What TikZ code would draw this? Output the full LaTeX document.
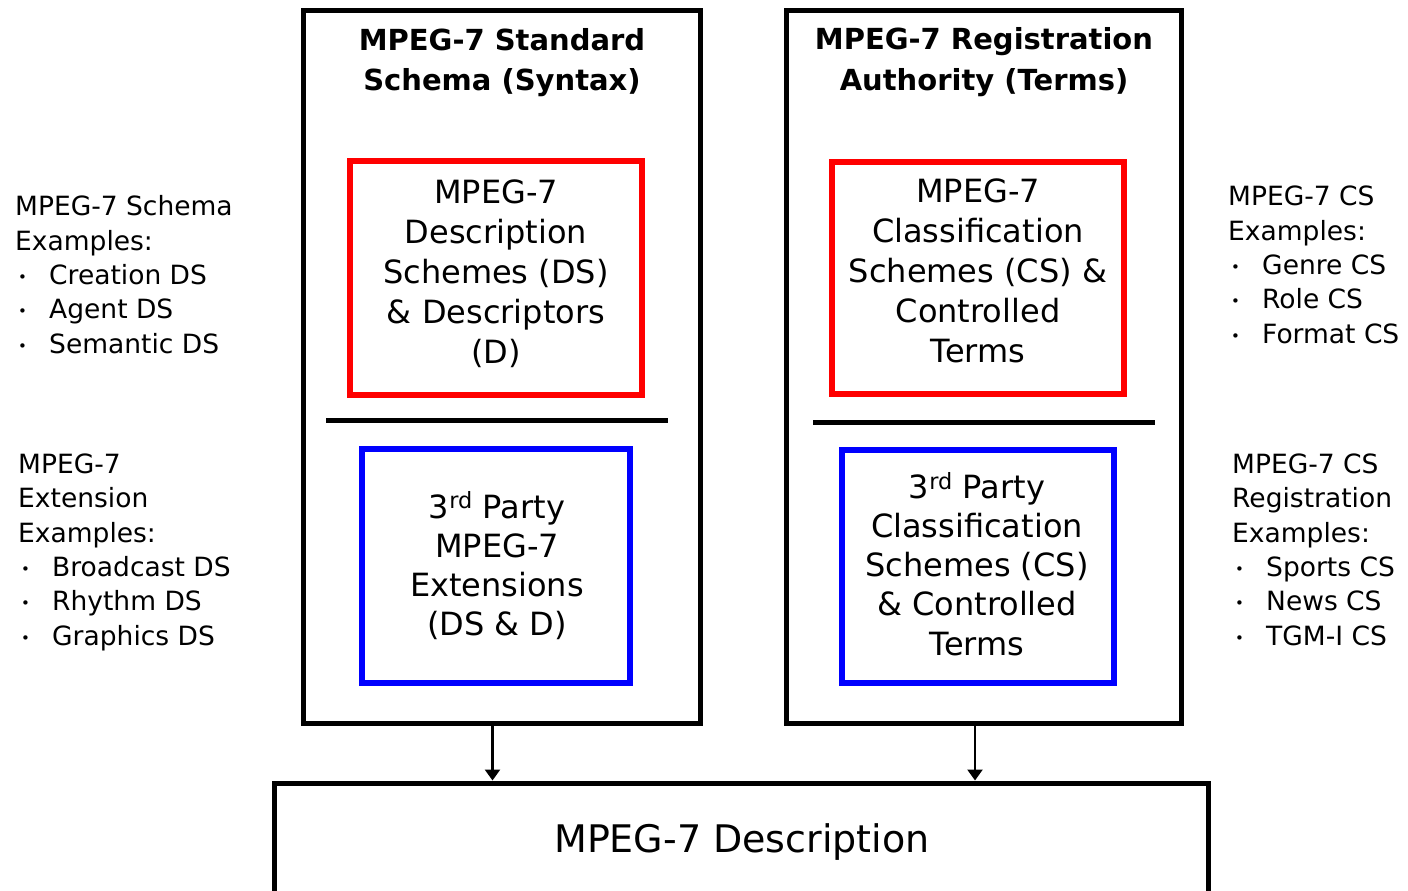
\documentclass[tikz,border=0pt]{standalone}
\usepackage{fontspec}
\setmainfont{DejaVu Sans}
\usetikzlibrary{arrows.meta}
\newcommand\itm{\makebox[34pt][l]{\kern3pt{\fontsize{15}{15}\selectfont\raisebox{2pt}{•}}}}
\tikzset{
  frame/.style={draw=black, line width=5pt, inner sep=0pt, rectangle},
  redbox/.style={draw=red, line width=6pt, inner sep=0pt, rectangle},
  bluebox/.style={draw=blue, line width=6pt, inner sep=0pt, rectangle},
  boxtext/.style={align=center, inner sep=0pt, anchor=base, font=\fontsize{32}{40}\selectfont},
  titletext/.style={align=center, inner sep=0pt, anchor=base, font=\bfseries\fontsize{29}{40}\selectfont},
  side/.style={align=left, inner sep=0pt, anchor=base west, font=\fontsize{26.5}{34.3}\selectfont},
  divider/.style={line width=5pt},
  flow/.style={line width=2.5pt, -{Triangle[width=15pt,length=11pt]}},
}
\begin{document}
\begin{tikzpicture}[x=1pt,y=-1pt]
\useasboundingbox (0,0) rectangle (1408,891);
\clip (0,0) rectangle (1408,891);
\fill[white] (0,0) rectangle (1408,891);

% big frames
\node[frame, minimum width=397pt, minimum height=713pt] (std) at (502,367) {};
\node[frame, minimum width=395.5pt, minimum height=712.5pt] (reg) at (983.75,366.75) {};

% titles (anchor = baseline of last line)
\node[titletext] (stdtitle) at (502,91) {MPEG-7 Standard\\Schema (Syntax)};
\node[titletext] (regtitle) at (984,90) {MPEG-7 Registration\\Authority (Terms)};

% inner boxes
\node[redbox, minimum width=292pt, minimum height=233.5pt] (ds) at (496,277.75) {};
\node[bluebox, minimum width=268pt, minimum height=234pt] (ext) at (496,566) {};
\node[redbox, minimum width=292.5pt, minimum height=232pt] (cs) at (977.75,277.5) {};
\node[bluebox, minimum width=271.5pt, minimum height=233.5pt] (tcs) at (977.75,566.25) {};

\node[boxtext] (dstext) at (496,363) {MPEG-7\\Description\\Schemes (DS)\\\& Descriptors\\(D)};
\node[boxtext, font=\fontsize{32}{39}\selectfont] (exttext) at (497,635) {3\textsuperscript{rd} Party\\MPEG-7\\Extensions\\(DS \& D)};
\node[boxtext] (cstext) at (978,362) {MPEG-7\\Classification\\Schemes (CS) \&\\Controlled\\Terms};
\node[boxtext, font=\fontsize{32}{39.2}\selectfont] (tcstext) at (977,655) {3\textsuperscript{rd} Party\\Classification\\Schemes (CS)\\\& Controlled\\Terms};

% dividers
\coordinate (dl1) at (326,420.5);
\coordinate (dl2) at (668,420.5);
\coordinate (dr1) at (813,422.5);
\coordinate (dr2) at (1155,422.5);
\draw[divider] (dl1) -- (dl2);
\draw[divider] (dr1) -- (dr2);

% bottom description box
\node[frame, minimum width=933.5pt, minimum height=240pt, anchor=north] (desc) at (741.25,780.5) {};
\node[inner sep=0pt, anchor=base, font=\fontsize{38}{44}\selectfont] (desctext) at (742,852) {MPEG-7 Description};

% arrows
\coordinate (aL) at (492.5,0);
\coordinate (aR) at (975,0);
\draw[flow] (aL |- std.south) -- (aL |- desc.north);
\draw[flow] (aR |- reg.south) -- (aR |- desc.north);

% side texts (anchor = baseline of last line)
\node[side] (schemaex) at (15,353) {MPEG-7 Schema\\Examples:\\\itm Creation DS\\\itm Agent DS\\\itm Semantic DS};
\node[side] (extex) at (18,645) {MPEG-7\\Extension\\Examples:\\\itm Broadcast DS\\\itm Rhythm DS\\\itm Graphics DS};
\node[side] (csex) at (1228,343) {MPEG-7 CS\\Examples:\\\itm Genre CS\\\itm Role CS\\\itm Format CS};
\node[side] (csregex) at (1232,645) {MPEG-7 CS\\Registration\\Examples:\\\itm Sports CS\\\itm News CS\\\itm TGM-I CS};
\end{tikzpicture}
\end{document}
